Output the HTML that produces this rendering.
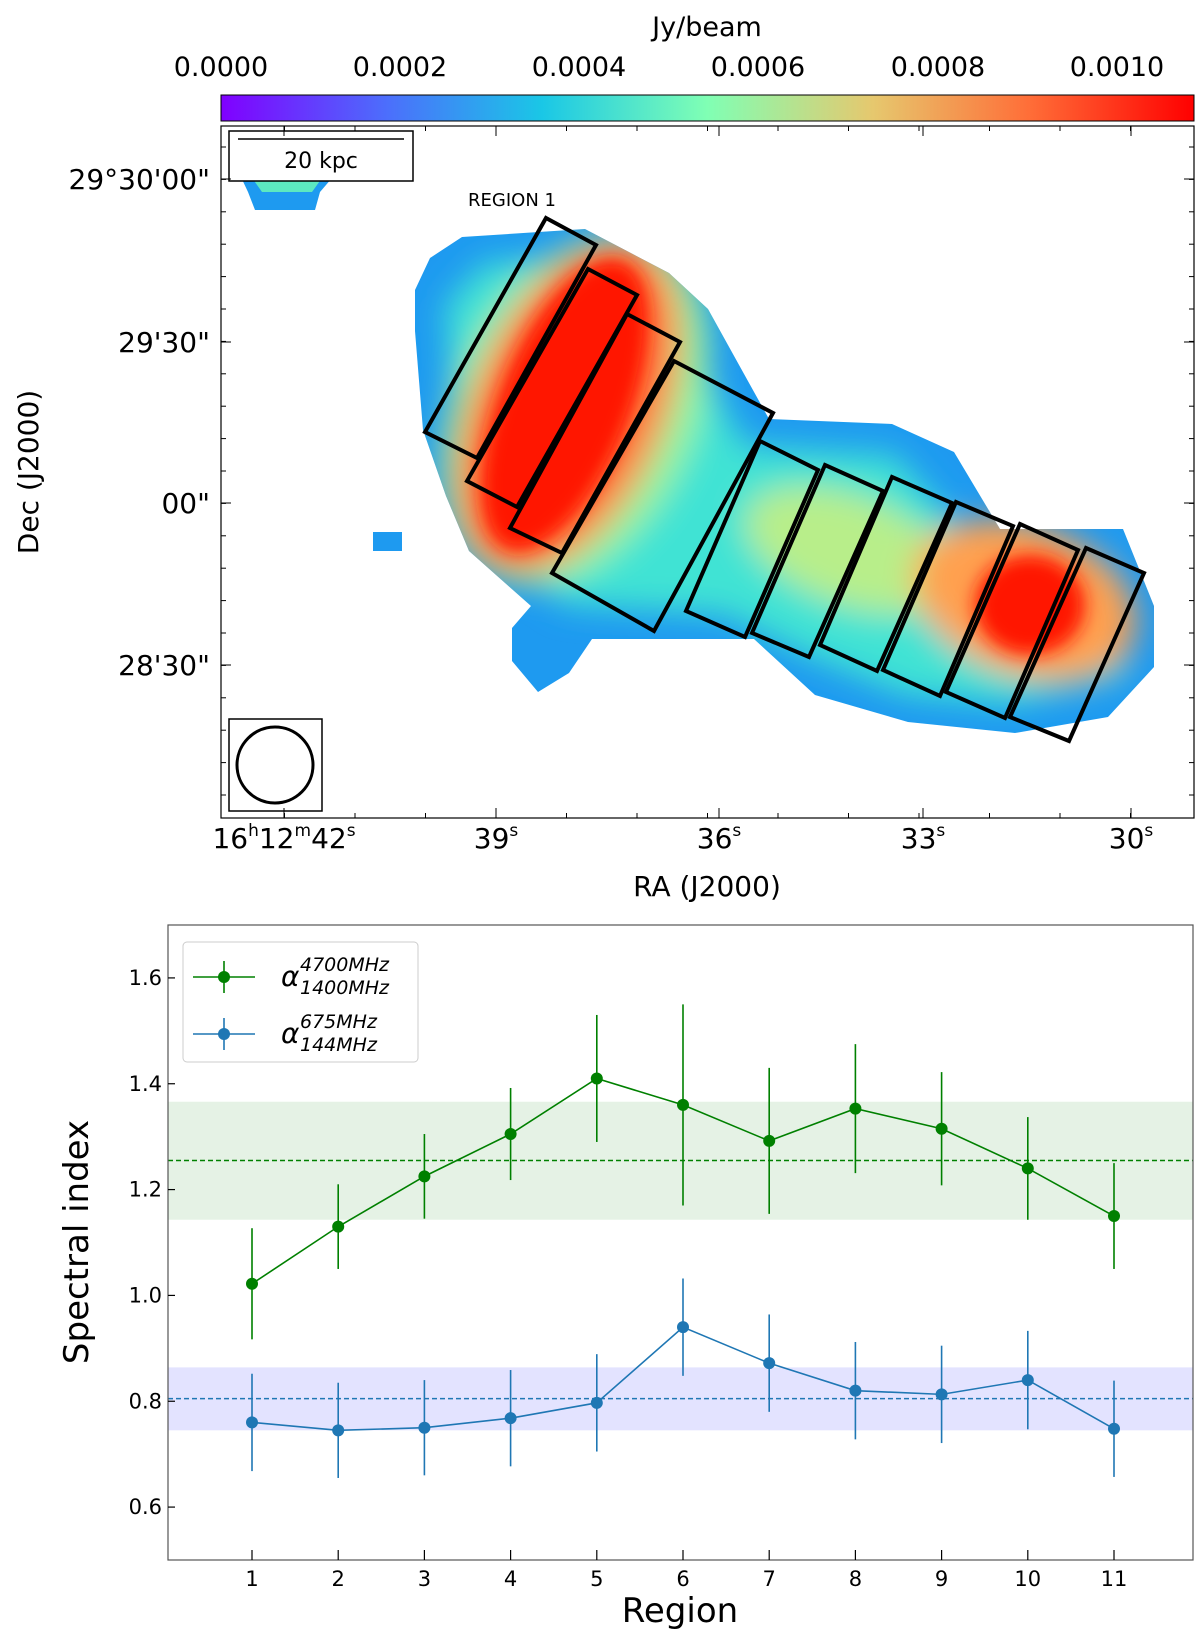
<!DOCTYPE html>
<html><head><meta charset="utf-8"><style>
html,body{margin:0;padding:0;background:#fff;}
svg{display:block;font-family:"DejaVu Sans","Liberation Sans",sans-serif;}
</style></head><body>
<svg id="fig" width="1200" height="1634" viewBox="0 0 1200 1634">
<defs>
<linearGradient id="rainbow" x1="0" x2="1" y1="0" y2="0">
<stop offset="0" stop-color="#8000ff"/><stop offset="0.17" stop-color="#4c6efc"/><stop offset="0.33" stop-color="#1ac7e6"/><stop offset="0.5" stop-color="#80ffb4"/><stop offset="0.67" stop-color="#e6c86e"/><stop offset="0.83" stop-color="#ff6e38"/><stop offset="1" stop-color="#ff0000"/>
</linearGradient>
<clipPath id="blobclip"><polygon points="415,290 430,258 462,237 585,229 669,273 708,309 769,419 892,424 954,452 1000,529 1123,529 1154,606 1154,667 1108,717 1015,733 908,722 815,695 754,639 592,639 569,673 538,692 512,661 512,628 531,606 469,551 446,496 423,430 415,331"/></clipPath>
<filter id="bl" x="-50%" y="-50%" width="200%" height="200%"><feGaussianBlur stdDeviation="16"/></filter>
<filter id="bl2" x="-50%" y="-50%" width="200%" height="200%"><feGaussianBlur stdDeviation="9"/></filter>
</defs>

<text x="707" y="36" font-size="27" text-anchor="middle">Jy/beam</text>
<rect x="221" y="95" width="973" height="26" fill="url(#rainbow)" stroke="#000" stroke-width="1"/>
<g font-size="27" text-anchor="middle">
<text x="221" y="76">0.0000</text><text x="400" y="76">0.0002</text><text x="579" y="76">0.0004</text><text x="758" y="76">0.0006</text><text x="938" y="76">0.0008</text><text x="1117" y="76">0.0010</text>
</g>

<g>
<rect x="221" y="126" width="973" height="692" fill="#fff"/>
<g clip-path="url(#blobclip)">
<rect x="400" y="220" width="770" height="530" fill="#1e9af0"/>
<g filter="url(#bl)">
<polygon points="445,305 485,262 590,258 680,325 745,445 895,455 975,545 1115,565 1125,675 1010,705 905,695 805,655 725,615 565,605 495,540 455,450" fill="#3fe3d4"/>
<ellipse cx="575" cy="410" rx="120" ry="185" transform="rotate(25 575 410)" fill="#9af59a"/>
<ellipse cx="850" cy="550" rx="110" ry="55" transform="rotate(20 850 550)" fill="#b8ee8a"/>
<ellipse cx="1025" cy="600" rx="115" ry="75" transform="rotate(20 1025 600)" fill="#ffa050"/>
<ellipse cx="568" cy="408" rx="95" ry="175" transform="rotate(24 568 408)" fill="#ff8040"/>
</g>
<g filter="url(#bl2)">
<ellipse cx="565" cy="405" rx="65" ry="155" transform="rotate(22 565 405)" fill="#ff1200"/>
<ellipse cx="1030" cy="605" rx="55" ry="50" fill="#ff1200"/>
</g>
</g>
<polygon points="240,175 240,160 332,160 332,178 320,192 315,210 255,210 248,192" fill="#1e9af0"/>
<polygon points="250,175 252,163 322,163 322,178 312,192 262,192" fill="#5ce8c0"/>
<rect x="268" y="168" width="40" height="12" fill="#ff7040"/>
<rect x="373" y="532" width="29" height="19" fill="#1e9af0"/>
</g>
<g fill="none" stroke="#000" stroke-width="4" stroke-linejoin="miter">
<polygon points="546,218 596,245 477,458 425,432"/>
<polygon points="588,269 637,295 517,507 467,481"/>
<polygon points="627,314 680,342 562,553 510,528"/>
<polygon points="674,361 773,413 654,631 552,573"/>
<polygon points="760,441 818,470 745,637 686,611"/>
<polygon points="825,465 883,491 809,657 752,633"/>
<polygon points="892,477 952,503 877,671 820,645"/>
<polygon points="956,502 1013,526 940,696 883,670"/>
<polygon points="1020,524 1078,550 1005,718 946,692"/>
<polygon points="1086,548 1144,573 1069,741 1010,717"/>
</g>
<text x="512" y="206" font-size="18" text-anchor="middle">REGION 1</text>
<g>
<rect x="229" y="131" width="184" height="50" fill="#fff" stroke="#000" stroke-width="1.5"/>
<line x1="238" y1="139" x2="404" y2="139" stroke="#000" stroke-width="1.5"/>
<text x="321" y="168" font-size="22" text-anchor="middle">20 kpc</text>
</g>
<g>
<rect x="229" y="719" width="93" height="92" fill="#fff" stroke="#000" stroke-width="1.5"/>
<ellipse cx="275" cy="765" rx="38" ry="38" fill="none" stroke="#000" stroke-width="3"/>
</g>
<rect x="221" y="126" width="973" height="692" fill="none" stroke="#000" stroke-width="1.2"/>
<g id="mapticks" stroke="#000" stroke-width="1"></g>
<g font-size="28" text-anchor="end">
<text x="210" y="189">29°30'00"</text><text x="210" y="352">29'30"</text><text x="210" y="513">00"</text><text x="210" y="675">28'30"</text>
</g>
<g font-size="28" text-anchor="middle">
<text x="284" y="848">16<tspan font-size="17" dy="-12">h</tspan><tspan dy="12">12</tspan><tspan font-size="17" dy="-12">m</tspan><tspan dy="12">42</tspan><tspan font-size="17" dy="-12">s</tspan></text>
<text x="496" y="848">39<tspan font-size="17" dy="-12">s</tspan></text>
<text x="719" y="848">36<tspan font-size="17" dy="-12">s</tspan></text>
<text x="923" y="848">33<tspan font-size="17" dy="-12">s</tspan></text>
<text x="1131" y="848">30<tspan font-size="17" dy="-12">s</tspan></text>
</g>
<text x="707" y="896" font-size="28" text-anchor="middle">RA (J2000)</text>
<text transform="translate(38 472) rotate(-90)" font-size="28" text-anchor="middle">Dec (J2000)</text>

<g id="chart"></g>
</svg>
<script>
const regions=[1,2,3,4,5,6,7,8,9,10,11];
const greenVals=[1.022,1.13,1.225,1.305,1.41,1.36,1.292,1.353,1.315,1.24,1.15];
const greenErr=[0.105,0.08,0.08,0.087,0.12,0.19,0.138,0.122,0.107,0.097,0.1];
const blueVals=[0.76,0.745,0.75,0.768,0.797,0.94,0.872,0.82,0.813,0.84,0.748];
const blueErr=[0.092,0.09,0.09,0.091,0.092,0.092,0.092,0.092,0.092,0.093,0.091];
const greenMean=[1.255], greenBand=[1.143,1.366];
const blueMean=[0.805], blueBand=[0.745,0.864];
const yTicks=[0.6,0.8,1.0,1.2,1.4,1.6];
const yTickLabels=["0.6","0.8","1.0","1.2","1.4","1.6"];
const NS="http://www.w3.org/2000/svg";
const L=168,R=1193,T=925,B=1560,Y0=0.5,Y1=1.7;
function xs(v){return 252+(v-1)*86.2;}
function ys(v){return B-(v-Y0)/(Y1-Y0)*(B-T);}
function mk(tag,attrs,parent){const e=document.createElementNS(NS,tag);for(const k in attrs)e.setAttribute(k,attrs[k]);parent.appendChild(e);return e;}
const g=document.getElementById('chart');
let r=mk('rect',{x:L,y:ys(greenBand[1]),width:R-L,height:ys(greenBand[0])-ys(greenBand[1]),fill:'#008000','fill-opacity':0.1},g);

r=mk('rect',{x:L,y:ys(blueBand[1]),width:R-L,height:ys(blueBand[0])-ys(blueBand[1]),fill:'#0000ff','fill-opacity':0.11},g);

let l=mk('line',{x1:L,x2:R,y1:ys(greenMean[0]),y2:ys(greenMean[0]),stroke:'#008000','stroke-width':1.5,'stroke-dasharray':'5,3'},g);

l=mk('line',{x1:L,x2:R,y1:ys(blueMean[0]),y2:ys(blueMean[0]),stroke:'#1f77b4','stroke-width':1.5,'stroke-dasharray':'5,3'},g);

function series(vals,errs,col,name){
  const pts=vals.map((v,i)=>xs(regions[i])+','+ys(v)).join(' ');
  const p=mk('polyline',{points:pts,fill:'none',stroke:col,'stroke-width':1.6},g);
  
  vals.forEach((v,i)=>{
    const x=xs(regions[i]);
    const e=mk('line',{x1:x,x2:x,y1:ys(v-errs[i]),y2:ys(v+errs[i]),stroke:col,'stroke-width':1.6},g);
    
    const c=mk('circle',{cx:x,cy:ys(v),r:6,fill:col},g);
    
  });
}
series(greenVals,greenErr,'#008000','green-series');
series(blueVals,blueErr,'#1f77b4','blue-series');
const fr=mk('rect',{x:L,y:T,width:R-L,height:B-T,fill:'none',stroke:'#555','stroke-width':1.2},g);

yTicks.forEach((t,i)=>{
  const y=ys(t);
  const tk=mk('line',{x1:L,x2:L+7,y1:y,y2:y,stroke:'#000','stroke-width':1.2},g);
  
  const tx=mk('text',{x:L-6,y:y+7,'font-size':21,'text-anchor':'end'},g);tx.textContent=yTickLabels[i];
  
});
regions.forEach(v=>{
  const x=xs(v);
  const tk=mk('line',{x1:x,x2:x,y1:B,y2:B-10,stroke:'#000','stroke-width':1.2},g);
  
  const tx=mk('text',{x:x,y:B+26,'font-size':21,'text-anchor':'middle'},g);tx.textContent=String(v);
  
});
let t=mk('text',{x:680,y:1622,'font-size':34,'text-anchor':'middle'},g);t.textContent='Region';

t=mk('text',{transform:'translate(88 1242) rotate(-90)','font-size':34,'text-anchor':'middle'},g);t.textContent='Spectral index';

const lg=mk('g',{},g);

mk('rect',{x:183,y:942,width:235,height:120,rx:4,fill:'#fff',stroke:'#ccc','stroke-width':1},lg);
[['#008000',977,'4700MHz','1400MHz','legend-entry-green'],['#1f77b4',1034,'675MHz','144MHz','legend-entry-blue']].forEach(d=>{
  const e=mk('g',{},lg);
  
  mk('line',{x1:193,x2:255,y1:d[1],y2:d[1],stroke:d[0],'stroke-width':1.6},e);
  mk('line',{x1:224,x2:224,y1:d[1]-16,y2:d[1]+16,stroke:d[0],'stroke-width':1.6},e);
  mk('circle',{cx:224,cy:d[1],r:6,fill:d[0]},e);
  const a=mk('text',{x:281,y:d[1]+9,'font-size':28,'font-style':'italic'},e);a.textContent='α';
  const s1=mk('text',{x:300,y:d[1]-6,'font-size':19,'font-style':'italic'},e);s1.textContent=d[2];
  const s2=mk('text',{x:300,y:d[1]+17,'font-size':19,'font-style':'italic'},e);s2.textContent=d[3];
});
const mt=document.getElementById('mapticks');

const decMajor=[179,342,503,665];
for(let y=147;y<818;y+=32.4){mk('line',{x1:221,x2:226,y1:y,y2:y},mt);mk('line',{x1:1189,x2:1194,y1:y,y2:y},mt);}
decMajor.forEach(y=>{mk('line',{x1:221,x2:231,y1:y,y2:y},mt);mk('line',{x1:1184,x2:1194,y1:y,y2:y},mt);});
const raMajor=[284,496,719,923,1131];
for(let x=214;x<1194;x+=70.5){if(x>221){mk('line',{x1:x,x2:x,y1:818,y2:813},mt);mk('line',{x1:x,x2:x,y1:126,y2:131},mt);}}
raMajor.forEach(x=>{mk('line',{x1:x,x2:x,y1:818,y2:808},mt);mk('line',{x1:x,x2:x,y1:126,y2:136},mt);});
</script>
</body></html>
